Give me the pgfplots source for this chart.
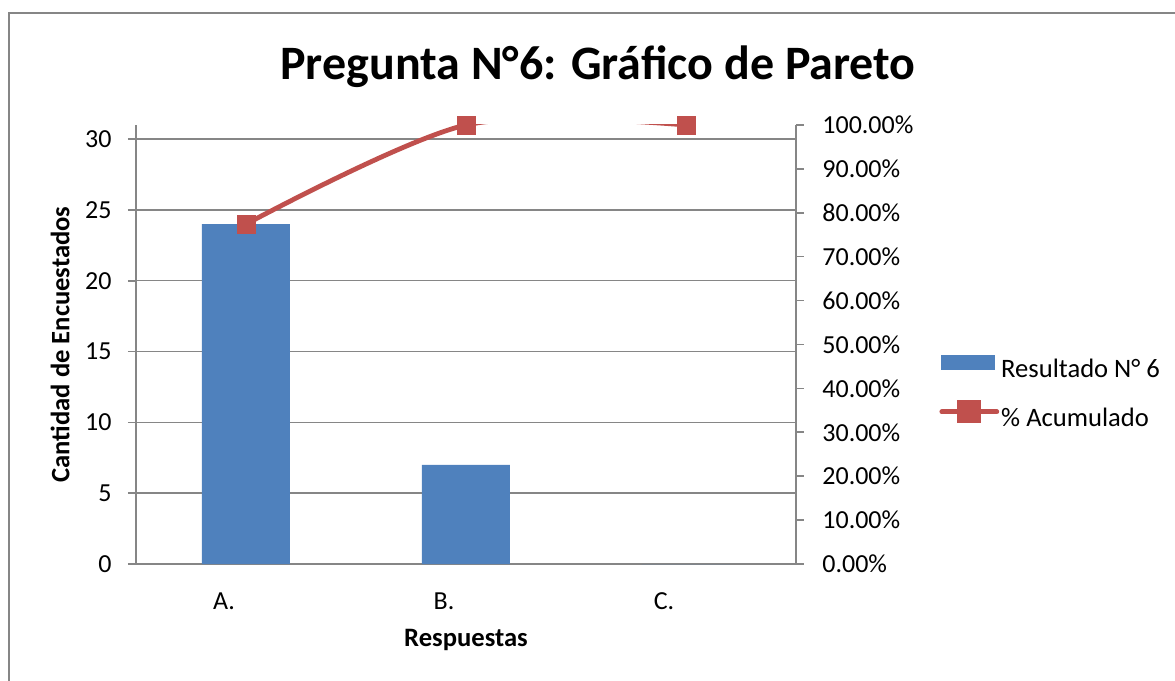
\documentclass[border=0pt]{standalone}
\usepackage{pgfplots}
\pgfplotsset{compat=1.18}
\usepackage{fontspec}
\setmainfont{Carlito}
\definecolor{barblue}{HTML}{4F81BD}
\definecolor{linered}{HTML}{C0504D}
\definecolor{axgray}{HTML}{868686}
\begin{document}
\begin{tikzpicture}[x=1pt,y=1pt]
\path[use as bounding box] (0,0) rectangle (587.5,340.5);
\draw[axgray, line width=1.3pt] (4.5,0) -- (4.5,334) -- (587.5,334);
\node[font=\bfseries\fontsize{24}{28}\selectfont] at (299,307) {Pregunta N°6: Gráfico de Pareto};

\begin{axis}[
  at={(68pt,58.5pt)}, anchor=south west,
  scale only axis, width=330pt, height=219.5pt,
  xmin=-0.5, xmax=2.5, ymin=0, ymax=31,
  axis y line*=left, axis x line*=bottom,
  axis line style={axgray, line width=0.8pt, -},
  xtick={0,1,2}, xticklabels={A.,B.,C.},
  major x tick style={draw=none},
  ytick={0,5,...,30},
  ymajorgrids, grid style={axgray, line width=0.7pt},
  tick style={axgray, line width=0.8pt},
  tick align=outside, major tick length=4pt,
  tick label style={font=\fontsize{13}{15}\selectfont, text=black},
  /pgf/number format/assume math mode=true,
  yticklabel style={anchor=east, inner sep=0pt, xshift=-8pt},
  xticklabel style={anchor=north, inner sep=0pt, xshift=-11pt, yshift=-10pt},
  xlabel={Respuestas},
  xlabel style={font=\bfseries\fontsize{13.3}{15}\selectfont, at={(axis description cs:0.5,-0.1731)}, anchor=center},
  ylabel={Cantidad de Encuestados},
  ylabel style={font=\bfseries\fontsize{13.3}{15}\selectfont, at={(axis description cs:-0.11515,0.5)}, anchor=center},
]
\addplot[ybar, bar width=0.4, fill=barblue, draw=none] coordinates {(0,24) (1,7) (2,0)};
\end{axis}

\begin{axis}[
  at={(68pt,58.5pt)}, anchor=south west,
  scale only axis, width=330pt, height=219.5pt,
  xmin=-0.5, xmax=2.5, ymin=0, ymax=100,
  axis y line*=right, axis x line=none,
  axis line style={axgray, line width=0.8pt, -},
  ytick={0,10,...,100},
  yticklabel={\pgfmathprintnumber[fixed,fixed zerofill,precision=2]{\tick}\%},
  tick style={axgray, line width=0.8pt},
  tick align=outside, major tick length=4pt,
  tick label style={font=\fontsize{13}{15}\selectfont, text=black},
  /pgf/number format/assume math mode=true,
  yticklabel style={anchor=west, inner sep=0pt, xshift=9pt},
  clip mode=individual,
  legend cell align=left,
  legend style={at={(axis description cs:1.2167,0.3907)}, anchor=west, draw=none, fill=none,
    inner sep=0pt, row sep=10pt, column sep=1pt, font=\fontsize{13.3}{15}\selectfont,
    nodes={inner sep=0pt}},
]
\addlegendimage{legend image code/.code={\fill[barblue] (0pt,0pt) rectangle (26.5pt,7pt);}}
\addlegendentry{Resultado N° 6}
\addplot[linered, line width=2.4pt, smooth, mark=square*, mark size=4.5pt,
  mark options={fill=linered, draw=linered, line width=0.4pt},
  legend image code/.code={\draw[linered, line width=2.4pt, line cap=round] (0pt,3.5pt) -- (27.5pt,3.5pt);
    \fill[linered] (9pt,-1pt) rectangle (18.5pt,8pt);}]
  coordinates {(0,77.42) (1,100) (2,100)};
\addlegendentry{\% Acumulado}
\end{axis}
\end{tikzpicture}
\end{document}
